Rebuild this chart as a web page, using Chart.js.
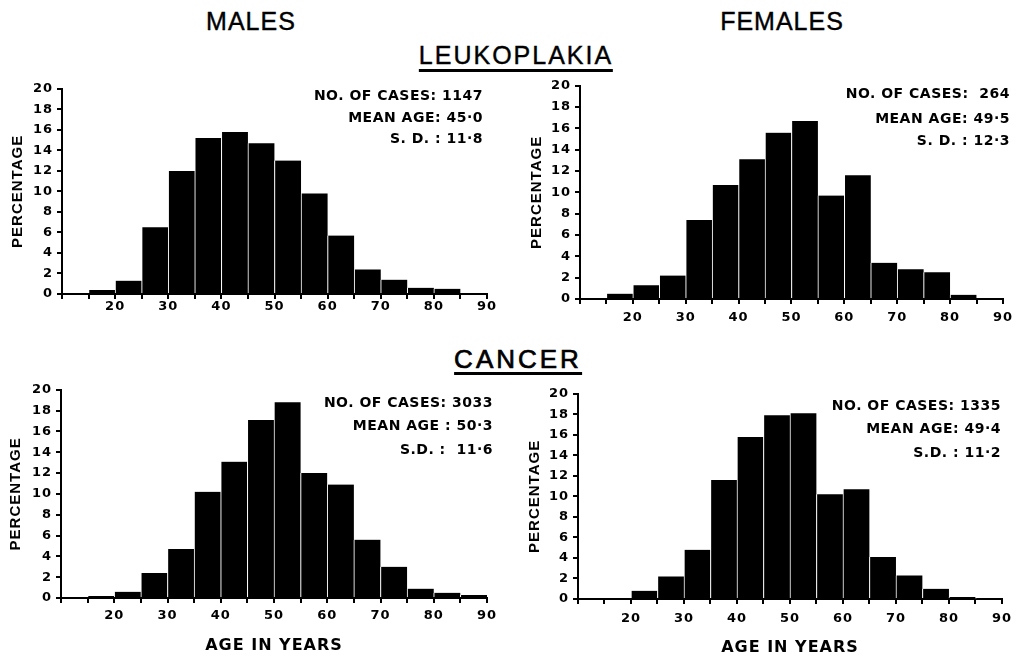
<!DOCTYPE html>
<html>
<head>
<meta charset="utf-8">
<script src="https://cdn.jsdelivr.net/npm/chart.js@4"></script>
<style>
  body { margin: 0; background: #fff; width: 1019px; height: 658px; overflow: hidden; position: relative;
         font-family: "Liberation Sans", Arial, sans-serif; color: #000; }
  canvas { position: absolute; }
  .head { position: absolute; font-size: 25px; line-height: 25px; letter-spacing: 1px;
          transform: translateX(-50%); white-space: nowrap; -webkit-text-stroke: 0.4px #000; }
  .under { border-bottom: 3px solid #000; }
</style>
</head>
<body>
<div class="head" style="left:251px; top:9px;">MALES</div>
<div class="head" style="left:782px; top:9px;">FEMALES</div>
<div class="head under" style="left:516px; top:43px; letter-spacing:2px; padding-bottom:1px;">LEUKOPLAKIA</div>
<div class="head under" style="left:518px; top:346px; font-size:26px; line-height:26px; letter-spacing:3px; -webkit-text-stroke:0.7px #000;">CANCER</div>

<canvas id="c1"></canvas>
<canvas id="c2"></canvas>
<canvas id="c3"></canvas>
<canvas id="c4"></canvas>

<script>
// age groups, lower edge of each 5-year bin
const ageBins = [15, 20, 25, 30, 35, 40, 45, 50, 55, 60, 65, 70, 75, 80, 85];
const binWidth = 5;
const xTickLabels = [20, 30, 40, 50, 60, 70, 80, 90];

// percentages
const leukoMales    = [0.4, 1.3, 6.5, 12.0, 15.2, 15.8, 14.7, 13.0, 9.8, 5.7, 2.4, 1.4, 0.6, 0.5, 0];
const leukoFemales  = [0.5, 1.3, 2.2, 7.4, 10.7, 13.1, 15.6, 16.7, 9.7, 11.6, 3.4, 2.8, 2.5, 0.4, 0];
const cancerMales   = [0.2, 0.6, 2.4, 4.7, 10.2, 13.1, 17.1, 18.8, 12.0, 10.9, 5.6, 3.0, 0.9, 0.5, 0.3];
const cancerFemales = [0, 0.8, 2.2, 4.8, 11.6, 15.8, 17.9, 18.1, 10.2, 10.7, 4.1, 2.3, 1.0, 0.2, 0.05];

const leukoMalesStats    = ['NO. OF CASES: 1147', 'MEAN AGE: 45·0', 'S. D. : 11·8'];
const leukoFemalesStats  = ['NO. OF CASES:  264', 'MEAN AGE: 49·5', 'S. D. : 12·3'];
const cancerMalesStats   = ['NO. OF CASES: 3033', 'MEAN AGE : 50·3', 'S.D. :  11·6'];
const cancerFemalesStats = ['NO. OF CASES: 1335', 'MEAN AGE: 49·4', 'S.D. : 11·2'];

// layout of each small chart on the page
const panels = [
  { id: 'c1', values: leukoMales, stats: leukoMalesStats, left: 0, top: 77, width: 502, height: 247,
    yWidth: 62, xHeight: 30, titlePad: 9, labelPad: 0, statsDx: -4, statsDy: [8, 30, 51], xTitle: false },
  { id: 'c2', values: leukoFemales, stats: leukoFemalesStats, left: 510, top: 74, width: 508, height: 260,
    yWidth: 70, xHeight: 35, titlePad: 18, labelPad: 6, statsDx: 7, statsDy: [9, 34, 56], xTitle: false },
  { id: 'c3', values: cancerMales, stats: cancerMalesStats, left: 0, top: 378, width: 502, height: 280,
    yWidth: 61, xHeight: 60, titlePad: 7, labelPad: 5, statsDx: 6, statsDy: [14, 37, 61], xTitle: true, xTitlePad: 3 },
  { id: 'c4', values: cancerFemales, stats: cancerFemalesStats, left: 510, top: 382, width: 508, height: 276,
    yWidth: 68, xHeight: 59, titlePad: 16, labelPad: 7, statsDx: -1, statsDy: [13, 36, 60], xTitle: true, xTitlePad: 1 }
];

const ink = '#000';
const tickFont = { family: '"DejaVu Sans"', size: 13, weight: 'bold' };

// a bit of letter spacing for all the lettering, like the original stencil text
const spacing = {
  id: 'spacing',
  beforeDraw(chart) {
    chart.ctx.letterSpacing = '1px';
  }
};

// writes the case count / mean / s.d. block in the top right corner
const statsText = {
  id: 'statsText',
  afterDraw(chart, args, opts) {
    const { ctx, chartArea: { top, right } } = chart;
    ctx.save();
    ctx.font = 'bold 14px "DejaVu Sans"';
    ctx.fillStyle = ink;
    ctx.textAlign = 'right';
    ctx.textBaseline = 'middle';
    ctx.letterSpacing = '0.5px';
    opts.lines.forEach((line, i) => ctx.fillText(line, right + opts.dx, top + opts.dy[i]));
    ctx.restore();
  }
};

panels.forEach((p) => {
  const canvas = document.getElementById(p.id);
  canvas.width = p.width;
  canvas.height = p.height;
  canvas.style.left = p.left + 'px';
  canvas.style.top = p.top + 'px';

  new Chart(canvas, {
    type: 'bar',
    data: {
      datasets: [{
        data: p.values.map((v, i) => ({ x: ageBins[i] + binWidth / 2, y: v })),
        backgroundColor: ink,
        borderColor: '#fff',
        borderWidth: { left: 1, right: 0, top: 0, bottom: 0 },
        borderSkipped: false,
        barPercentage: 1,
        categoryPercentage: 1
      }]
    },
    options: {
      responsive: false,
      animation: false,
      layout: { padding: { left: 0, right: 15, top: 10, bottom: 0 } },
      scales: {
        x: {
          type: 'linear',
          min: 10,
          max: 90,
          offset: false,
          grid: { display: true, offset: false, drawOnChartArea: false, drawTicks: true, tickLength: 5, color: ink, lineWidth: 2 },
          border: { display: true, color: ink, width: 2 },
          ticks: {
            stepSize: 5,
            autoSkip: false,
            maxRotation: 0,
            padding: p.labelPad,
            color: ink,
            font: tickFont,
            callback: (v) => xTickLabels.includes(v) ? String(v) : ''
          },
          title: {
            display: p.xTitle,
            text: 'AGE IN YEARS',
            color: ink,
            font: { family: '"DejaVu Sans"', size: 16, weight: 'bold' },
            padding: { top: 0, bottom: p.xTitlePad || 0 }
          },
          afterFit: (scale) => { scale.height = p.xHeight; }
        },
        y: {
          min: 0,
          max: 20,
          grid: { display: true, drawOnChartArea: false, drawTicks: true, tickLength: 5, color: ink, lineWidth: 2 },
          border: { display: true, color: ink, width: 2 },
          ticks: { stepSize: 2, padding: 4, color: ink, font: tickFont },
          title: {
            display: true,
            text: 'PERCENTAGE',
            color: ink,
            font: { family: '"Liberation Sans"', size: 15, weight: 'bold' },
            padding: { top: p.titlePad, bottom: 0 }
          },
          afterFit: (scale) => { scale.width = p.yWidth; }
        }
      },
      plugins: {
        legend: { display: false },
        tooltip: { enabled: false },
        statsText: { lines: p.stats, dx: p.statsDx, dy: p.statsDy }
      }
    },
    plugins: [spacing, statsText]
  });
});
</script>
</body>
</html>
